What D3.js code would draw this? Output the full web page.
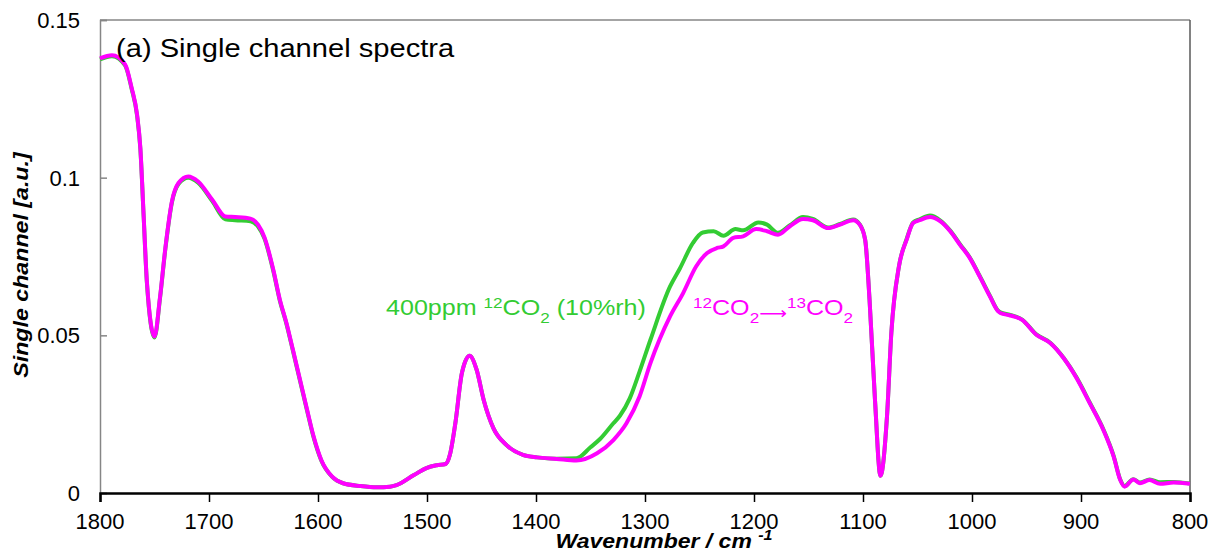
<!DOCTYPE html>
<html>
<head>
<meta charset="utf-8">
<script src="https://cdn.jsdelivr.net/npm/d3@7"></script>
<style>
  html, body { margin: 0; padding: 0; background: #fff; }
  svg { display: block; font-family: "Liberation Sans", Arial, sans-serif; }
</style>
</head>
<body>
<svg id="chart" width="1220" height="559"></svg>
<script>
// Single channel spectra, 1800-800 cm-1
const xTicks = [1800, 1700, 1600, 1500, 1400, 1300, 1200, 1100, 1000, 900, 800];
const yTicks = [0, 0.05, 0.1, 0.15];
const yTickLabels = ["0", "0.05", "0.1", "0.15"];

// 400 ppm 12CO2 (10 %rh): [wavenumber, single channel]
const series12 = [
  [1800, 0.1375], [1789, 0.1385], [1777, 0.1356], [1771, 0.1282], [1766, 0.1197],
  [1763, 0.1092], [1760, 0.0880], [1757, 0.0668], [1750, 0.0493], [1745, 0.0616],
  [1740, 0.0775], [1734, 0.0922], [1728, 0.0980], [1719, 0.1000], [1710, 0.0984],
  [1697, 0.0926], [1685, 0.0868], [1676, 0.0865], [1662, 0.0862], [1655, 0.0845],
  [1649, 0.0806], [1641, 0.0704], [1635, 0.0610], [1629, 0.0537], [1623, 0.0451],
  [1616.5, 0.0356], [1610, 0.0261], [1604, 0.0176], [1597, 0.0103], [1587, 0.0051],
  [1577, 0.0031], [1561, 0.0022], [1546, 0.0018], [1534, 0.0020], [1528, 0.0025],
  [1512, 0.0057], [1500, 0.0080], [1491, 0.0088], [1483, 0.0092], [1479, 0.0121],
  [1474, 0.0221], [1468, 0.0380], [1461, 0.0435], [1454.5, 0.0391], [1448, 0.0295],
  [1439, 0.0205], [1427, 0.0152], [1412, 0.0121], [1399, 0.0113], [1381, 0.0109],
  [1363, 0.0110], [1350, 0.0145], [1341, 0.0172], [1329, 0.0221], [1323, 0.0245],
  [1314, 0.0300], [1305, 0.0385], [1295, 0.0486], [1277, 0.0655], [1268, 0.0712],
  [1256, 0.0793], [1247, 0.0826], [1237, 0.0830], [1228, 0.0816], [1217, 0.0837],
  [1210, 0.0833], [1196, 0.0858], [1188, 0.0851], [1178, 0.0825], [1167, 0.0849],
  [1155, 0.0875], [1146, 0.0869], [1132, 0.0842], [1121, 0.0853], [1109, 0.0867],
  [1103, 0.0852], [1098, 0.0803], [1094, 0.0613], [1089, 0.0295], [1084, 0.0055],
  [1078, 0.0242], [1074, 0.0508], [1067, 0.0719], [1060, 0.0805], [1054, 0.0858],
  [1048, 0.0868], [1038.5, 0.0880], [1029, 0.0864], [1020, 0.0832], [1011, 0.0789],
  [1002, 0.0747], [993, 0.0689], [983.5, 0.0625], [976, 0.0578], [974, 0.0573],
  [965, 0.0565], [954, 0.0550], [941, 0.0503], [928, 0.0476], [916, 0.0429],
  [904, 0.0366], [892, 0.0287], [879.5, 0.0202], [870, 0.0117], [864, 0.0043],
  [860, 0.0022], [852, 0.0044], [846, 0.0033], [837, 0.0043], [827.5, 0.0034],
  [815, 0.0035], [800, 0.0030]
];

// after 12CO2 -> 13CO2 exchange: [wavenumber, single channel]
const series13 = [
  [1800, 0.1378], [1789, 0.1388], [1777, 0.1359], [1771, 0.1285], [1766, 0.1200],
  [1763, 0.1095], [1760, 0.0883], [1757, 0.0671], [1750, 0.0496], [1745, 0.0619],
  [1740, 0.0778], [1734, 0.0925], [1728, 0.0983], [1719, 0.1004], [1710, 0.0988],
  [1697, 0.0930], [1685, 0.0877], [1676, 0.0875], [1662, 0.0870], [1655, 0.0851],
  [1649, 0.0810], [1641, 0.0708], [1635, 0.0613], [1629, 0.0540], [1623, 0.0454],
  [1616.5, 0.0359], [1610, 0.0264], [1604, 0.0179], [1597, 0.0105], [1587, 0.0052],
  [1577, 0.0031], [1561, 0.0022], [1546, 0.0018], [1534, 0.0020], [1528, 0.0025],
  [1512, 0.0057], [1500, 0.0080], [1491, 0.0088], [1483, 0.0092], [1479, 0.0121],
  [1474, 0.0221], [1468, 0.0380], [1461, 0.0435], [1454.5, 0.0391], [1448, 0.0295],
  [1439, 0.0205], [1427, 0.0152], [1412, 0.0121], [1399, 0.0113], [1381, 0.0108],
  [1363, 0.0103], [1344, 0.0126], [1329, 0.0168], [1317, 0.0221], [1305, 0.0306],
  [1295, 0.0412], [1277, 0.0560], [1265, 0.0634], [1253, 0.0719], [1243, 0.0761],
  [1234, 0.0777], [1228, 0.0782], [1219, 0.0809], [1210, 0.0814], [1198, 0.0837],
  [1188, 0.0830], [1178, 0.0819], [1167, 0.0846], [1155, 0.0869], [1146, 0.0865],
  [1132, 0.0840], [1121, 0.0851], [1109, 0.0865], [1103, 0.0851], [1098, 0.0803],
  [1094, 0.0613], [1089, 0.0295], [1084, 0.0055], [1078, 0.0242], [1074, 0.0508],
  [1067, 0.0719], [1060, 0.0803], [1054, 0.0856], [1048, 0.0865], [1038.5, 0.0875],
  [1029, 0.0861], [1020, 0.0830], [1011, 0.0787], [1002, 0.0745], [993, 0.0687],
  [983.5, 0.0623], [976, 0.0576], [974, 0.0571], [965, 0.0563], [954, 0.0549],
  [941, 0.0502], [928, 0.0475], [916, 0.0428], [904, 0.0364], [892, 0.0285],
  [879.5, 0.0200], [870, 0.0115], [864, 0.0041], [860, 0.0020], [852, 0.0043],
  [846, 0.0031], [837, 0.0041], [827.5, 0.0029], [815, 0.0033], [800, 0.0029]
];

const colors = { c12: "#33cc33", c13: "#ff00ff" };

const svg = d3.select("#chart");
const margin = { left: 100, right: 30, top: 20, bottom: 66 };
const W = 1220, H = 559;
const x = d3.scaleLinear().domain([1800, 800]).range([margin.left, W - margin.right]);
const y = d3.scaleLinear().domain([0, 0.15]).range([H - margin.bottom, margin.top]);

// frame: top and right borders
svg.append("line").attr("x1", x(1800)).attr("x2", x(800)).attr("y1", y(0.15)).attr("y2", y(0.15))
  .attr("stroke", "#868686").attr("stroke-width", 1.5);
svg.append("line").attr("x1", x(800)).attr("x2", x(800)).attr("y1", y(0.15)).attr("y2", y(0))
  .attr("stroke", "#595959").attr("stroke-width", 1.5);

// y axis, ticks pointing inward
const yAxis = d3.axisRight(y).tickValues(yTicks).tickSize(7).tickFormat("");
const gy = svg.append("g").attr("transform", `translate(${x(1800)},0)`).call(yAxis);
gy.select(".domain").attr("stroke", "#868686").attr("stroke-width", 1.5);
gy.selectAll(".tick line").attr("stroke", "#868686").attr("stroke-width", 1.5);
svg.append("g").selectAll("text").data(yTicks).join("text")
  .attr("x", 80).attr("y", d => y(d)).attr("dy", "0.36em")
  .attr("text-anchor", "end").attr("font-size", 22).attr("fill", "#000")
  .text((d, i) => yTickLabels[i]);

// spectra
const line = d3.line().x(d => x(d[0])).y(d => y(d[1])).curve(d3.curveMonotoneX);
const plot = svg.append("g");
plot.append("path").datum(series12).attr("d", line)
  .attr("fill", "none").attr("stroke", colors.c12).attr("stroke-width", 4).attr("stroke-linejoin", "round");
plot.append("path").datum(series13).attr("d", line)
  .attr("fill", "none").attr("stroke", colors.c13).attr("stroke-width", 4).attr("stroke-linejoin", "round");

// x axis at the bottom, ticks pointing outward
const xAxis = d3.axisBottom(x).tickValues(xTicks).tickSize(9).tickFormat("");
const gx = svg.append("g").attr("transform", `translate(0,${y(0)})`).call(xAxis);
gx.select(".domain").attr("stroke", "#000").attr("stroke-width", 2.5);
gx.selectAll(".tick line").attr("stroke", "#000").attr("stroke-width", 1.5);
svg.append("g").selectAll("text").data(xTicks).join("text")
  .attr("x", d => x(d)).attr("y", 529)
  .attr("text-anchor", "middle").attr("font-size", 22).attr("fill", "#000")
  .text(d => d);

// axis titles (slightly widened lettering)
svg.append("text")
  .attr("transform", "translate(28,265) rotate(-90) scale(1.16,1)")
  .attr("text-anchor", "middle").attr("font-size", 20)
  .attr("font-weight", "bold").attr("font-style", "italic")
  .text("Single channel [a.u.]");

const xt = svg.append("text")
  .attr("transform", "translate(664,548) scale(1.15,1)").attr("text-anchor", "middle")
  .attr("font-size", 20).attr("font-weight", "bold").attr("font-style", "italic");
xt.append("tspan").text("Wavenumber / cm ");
xt.append("tspan").attr("dy", -8).attr("font-size", 14).text("-1");

// panel title
svg.append("text").attr("transform", "translate(116,57) scale(1.12,1)")
  .attr("font-size", 26).text("(a) Single channel spectra");

// series labels with isotope superscripts and subscripts
function chem(sel, parts) {
  parts.forEach(p => {
    const t = sel.append("tspan").text(p.t);
    if (p.size) t.attr("font-size", p.size);
    if (p.font) t.attr("font-family", p.font);
    if (p.dy) t.attr("dy", p.dy);
  });
}
const l12 = svg.append("text").attr("transform", "translate(386,315) scale(1.14,1)")
  .attr("font-size", 22).attr("fill", colors.c12);
chem(l12, [
  { t: "400ppm " }, { t: "12", size: 15, dy: -7 }, { t: "CO", dy: 7 },
  { t: "2", size: 15, dy: 8 }, { t: " (10%rh)", dy: -8 }
]);

const l13 = svg.append("text").attr("transform", "translate(693,315) scale(1.14,1)")
  .attr("font-size", 22).attr("fill", colors.c13);
chem(l13, [
  { t: "12", size: 15, dy: -7 }, { t: "CO", dy: 7 }, { t: "2", size: 15, dy: 8 },
  { t: "\u27F6", font: "DejaVu Sans", size: 17, dy: -4 },
  { t: "13", size: 15, dy: -11 }, { t: "CO", dy: 7 }, { t: "2", size: 15, dy: 8 }
]);
</script>
</body>
</html>
